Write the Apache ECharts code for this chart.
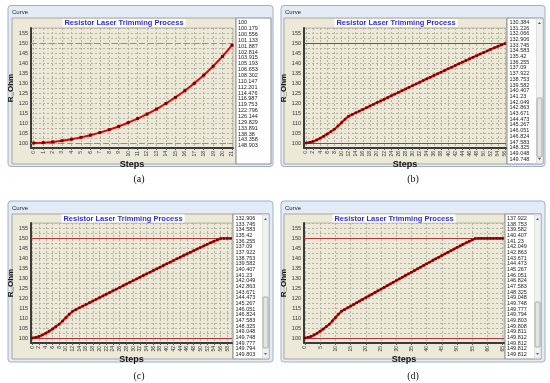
<!DOCTYPE html>
<html><head><meta charset="utf-8">
<script src="https://cdn.jsdelivr.net/npm/echarts@6/dist/echarts.min.js"></script>
<style>html,body{margin:0;padding:0;background:#fff}#c{width:550px;height:383px}</style>
</head><body><div id="c"></div>
<script>
// ---- text ----
const chartTitle = 'Resistor Laser Trimming Process';
const yName = 'R_Ohm';
const xName = 'Steps';
const windowTitle = 'Curve';
const captions = ['(a)', '(b)', '(c)', '(d)'];

// ---- data ----
const valuesA = [100, 100.179, 100.556, 101.133, 101.887, 102.814, 103.915, 105.193, 106.653, 108.302,
  110.147, 112.201, 114.476, 116.987, 119.753, 122.796, 126.144, 129.829, 133.891, 138.38, 143.358, 148.903];
// steps 0..56 (0..31, 32..56 from the list)
const runB = [100, 100.3, 100.8, 101.5, 102.4, 103.4, 104.5, 105.7, 106.9, 108.5, 110.2, 111.9, 113.4,
  114.24, 115.09, 115.94, 116.79, 117.64, 118.49, 119.34, 120.19, 121.04, 121.89, 122.74, 123.59, 124.44,
  125.29, 126.14, 126.99, 127.84, 128.69, 129.54,
  130.384, 131.226, 132.066, 132.906, 133.745, 134.583, 135.42, 136.255, 137.09, 137.922, 138.753, 139.582,
  140.407, 141.23, 142.049, 142.863, 143.671, 144.473, 145.267, 146.051, 146.824, 147.583, 148.325, 149.048, 149.748];
const plateauC = [149.777, 149.794, 149.803];
const plateauD = [149.808, 149.811, 149.812, 149.812, 149.812, 149.812];
const valuesB = runB;
const valuesC = runB.concat(plateauC);
const valuesD = valuesC.concat(plateauD);
const listStart = [0, 32, 35, 41];
const refLines = [100, 150];
const yLabelStep = 5;

const xTicksA = [0,1,2,3,4,5,6,7,8,9,10,11,12,13,14,15,16,17,18,19,20,21];
const xTicksB = [0,2,4,6,8,10,12,14,16,18,20,22,24,26,28,30,32,34,36,38,40,42,44,46,48,50,52,54,56];
const xTicksC = [0,2,4,6,8,10,12,14,16,18,20,22,24,26,28,30,32,34,36,38,40,42,44,46,48,50,52,54,56,58];
const xTicksD = [0,5,10,15,20,25,30,35,40,45,50,55,60,65];

// ---- layout ----
const panels = [
  {vals: valuesA, ticks: xTicksA, grid: {left: 31, top: 28, width: 202, height: 120}, xmin: -0.29, xmax: 21.1, dashed: true,
   frame: [8, 5.5, 265, 161], beige: [12, 18, 224, 146], listBox: [236, 18, 35, 146], scroll: null,
   titleC: [124, 23], cap: [139, 179], curve: [12, 12.5], listXY: [238, 19.8], rowH: 5.86},
  {vals: valuesB, ticks: xTicksB, grid: {left: 304, top: 28, width: 202, height: 120}, xmin: -0.56, xmax: 56.28, dashed: false,
   frame: [281, 5.5, 264, 161], beige: [284, 18, 223, 146], listBox: [507, 18, 36, 146], scroll: [536.5, 19, 6, 144, 98, 157],
   titleC: [396, 23], cap: [413, 179], curve: [285, 12.5], listXY: [509.5, 19.5], rowH: 5.7},
  {vals: valuesC, ticks: xTicksC, grid: {left: 31, top: 223, width: 201, height: 120}, xmin: -0.39, xmax: 59.39, dashed: false,
   frame: [8, 201, 265, 161], beige: [12, 214, 221, 145], listBox: [233, 214, 36, 145], scroll: [262.5, 215, 6, 143, 297, 348],
   titleC: [123, 218.5], cap: [139, 376], curve: [12, 208], listXY: [235.5, 215.5], rowH: 5.67},
  {vals: valuesD, ticks: xTicksD, grid: {left: 304, top: 223, width: 200, height: 120}, xmin: -0.33, xmax: 65.43, dashed: false,
   frame: [281, 201, 264, 161], beige: [284, 214, 221, 145], listBox: [505, 214, 36, 145], scroll: [534.5, 215, 6, 143, 302, 347],
   titleC: [394, 218.5], cap: [413, 376], curve: [285, 208], listXY: [507, 215.5], rowH: 5.67}
];

const gridLine = {color: '#b4b1a1', type: [2, 2], width: 1};
const grids = [], xAxes = [], yAxes = [], series = [], graphics = [];

panels.forEach((p, i) => {
  grids.push(Object.assign({show: true, backgroundColor: '#ece9d8', borderColor: '#bdbaa9', borderWidth: 1,
    outerBoundsMode: 'none', containLabel: false}, p.grid));
  xAxes.push({
    gridIndex: i, type: 'value', min: p.xmin, max: p.xmax,
    name: xName, nameLocation: 'middle', nameGap: 7,
    nameTextStyle: {fontWeight: 'bold', fontSize: 9, color: '#111', fontFamily: 'Liberation Sans'},
    axisLine: {show: true, onZero: false, lineStyle: {color: '#3a3a3a', width: 2}},
    axisTick: {show: true, length: 2, customValues: p.ticks, lineStyle: {color: '#555'}},
    axisLabel: {customValues: p.ticks, rotate: 90, fontSize: 5, margin: 3, color: '#333', fontFamily: 'Liberation Sans'},
    splitLine: {show: true, lineStyle: gridLine}
  });
  yAxes.push({
    gridIndex: i, type: 'value', min: 97.5, max: 157.5, interval: 2.5,
    name: yName, nameLocation: 'middle', nameGap: 9, nameRotate: 90,
    nameTextStyle: {fontWeight: 'bold', fontSize: 8, color: '#111', fontFamily: 'Liberation Sans'},
    axisLine: {show: true, onZero: false, lineStyle: {color: '#3a3a3a', width: 2}},
    axisTick: {show: false},
    axisLabel: {fontSize: 5.5, color: '#333', margin: 3, fontFamily: 'Liberation Sans',
      formatter: v => (Math.abs(v % yLabelStep) < 1e-6 ? String(v) : '')},
    splitLine: {show: true, lineStyle: gridLine}
  });
  series.push({
    type: 'line', xAxisIndex: i, yAxisIndex: i,
    data: p.vals.map((v, k) => [k, v]),
    symbol: 'rect', symbolSize: i === 0 ? 3 : 2.5,
    itemStyle: {color: '#7a0000'},
    lineStyle: {color: '#e00000', width: i === 0 ? 2 : 2.2},
    z: 5, animation: false,
    markLine: {
      silent: true, symbol: ['none', 'none'], label: {show: false}, animation: false,
      lineStyle: p.dashed ? {color: '#c47a70', type: [6, 3], width: 1} : {color: '#a83a3a', type: 'solid', width: 1},
      data: refLines.map(v => ({yAxis: v}))
    }
  });

  // window frame
  graphics.push({type: 'rect', z: -30, shape: {x: p.frame[0], y: p.frame[1], width: p.frame[2], height: p.frame[3], r: 3},
    style: {fill: '#e3ebf6', stroke: '#9fb0c6', lineWidth: 1}});
  graphics.push({type: 'rect', z: -29, shape: {x: p.beige[0], y: p.beige[1], width: p.beige[2], height: p.beige[3]},
    style: {fill: '#ece9d8', stroke: '#a9a798', lineWidth: 1}});
  graphics.push({type: 'rect', z: -29, shape: {x: p.listBox[0], y: p.listBox[1], width: p.listBox[2], height: p.listBox[3]},
    style: {fill: '#ffffff', stroke: '#8d8d8d', lineWidth: 1}});
  if (p.scroll) {
    const s = p.scroll;
    graphics.push({type: 'rect', z: -28, shape: {x: s[0], y: s[1], width: s[2], height: s[3]}, style: {fill: '#f1f1f1', stroke: '#e0e0e0'}});
    graphics.push({type: 'rect', z: -27, shape: {x: s[0] + 0.5, y: s[4], width: s[2] - 1, height: s[5] - s[4], r: 1},
      style: {fill: '#e4e4e4', stroke: '#9c9c9c', lineWidth: 0.8}});
    const cx = s[0] + s[2] / 2;
    graphics.push({type: 'polygon', z: -26, shape: {points: [[cx - 1.5, s[1] + 5], [cx + 1.5, s[1] + 5], [cx, s[1] + 3]]}, style: {fill: '#555'}});
    graphics.push({type: 'polygon', z: -26, shape: {points: [[cx - 1.5, s[1] + s[3] - 5], [cx + 1.5, s[1] + s[3] - 5], [cx, s[1] + s[3] - 3]]}, style: {fill: '#555'}});
  }
  // window title
  graphics.push({type: 'text', z: 50, x: p.curve[0], y: p.curve[1],
    style: {text: windowTitle, fontSize: 6, fontFamily: 'Liberation Sans', fill: '#222', verticalAlign: 'middle'}});
  // chart title
  graphics.push({type: 'text', z: 50, x: p.titleC[0], y: p.titleC[1],
    style: {text: chartTitle, fontSize: 7.5, fontWeight: 'bold', fontFamily: 'Liberation Sans', fill: '#3030d0',
      align: 'center', verticalAlign: 'middle', backgroundColor: '#ffffff', padding: [0, 2, 0, 2]}});
  // value list
  graphics.push({type: 'text', z: 50, x: p.listXY[0], y: p.listXY[1],
    style: {text: p.vals.slice(listStart[i], listStart[i] + 25).map(v => String(v)).join('\n'),
      fontSize: 5.5, fontFamily: 'Liberation Sans', fill: '#222', lineHeight: p.rowH, verticalAlign: 'top'}});
  // caption
  graphics.push({type: 'text', z: 50, x: p.cap[0], y: p.cap[1],
    style: {text: captions[i], fontSize: 10, fontFamily: 'Liberation Serif', fill: '#111', align: 'center', verticalAlign: 'middle'}});
});

const chart = echarts.init(document.getElementById('c'), null, {renderer: 'canvas'});
chart.setOption({
  animation: false,
  backgroundColor: '#ffffff',
  grid: grids, xAxis: xAxes, yAxis: yAxes, series: series,
  graphic: graphics
});
</script>
</body></html>
